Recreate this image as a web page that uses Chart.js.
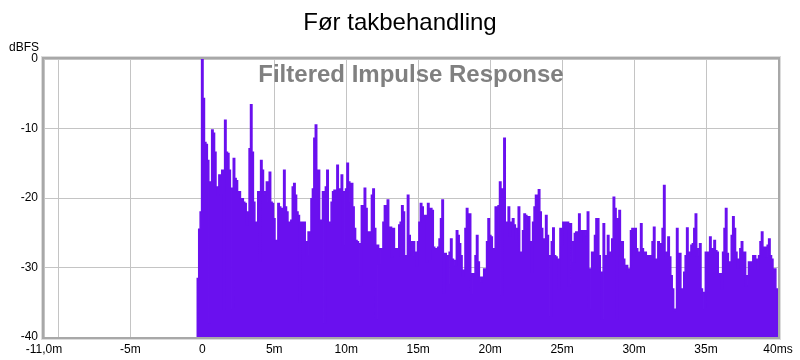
<!DOCTYPE html>
<html>
<head>
<meta charset="utf-8">
<script src="https://cdn.jsdelivr.net/npm/chart.js@4/dist/chart.umd.min.js"></script>
<style>
  html, body { margin: 0; padding: 0; background: #ffffff; }
  #wrap { width: 800px; height: 360px; position: relative; }
</style>
</head>
<body>
<div id="wrap"><canvas id="c" width="800" height="360"></canvas></div>
<script>
// ---- data ----
const chartTitle = 'Før takbehandling';
const yUnitLabel = 'dBFS';
const watermarkText = 'Filtered Impulse Response';

const xTickValues = [-11, -10, -5, 0, 5, 10, 15, 20, 25, 30, 35, 40];
const xTickLabels = ['-11,0m', '', '-5m', '0', '5m', '10m', '15m', '20m', '25m', '30m', '35m', '40ms'];
const yTickValues = [0, -10, -20, -30, -40];

// time in ms
const timesMs = [
  -0.4, -0.3, -0.2, -0.1,
  0, 0.1, 0.2, 0.3, 0.4, 0.5, 0.6, 0.7, 0.8, 0.9,
  1, 1.1, 1.2, 1.3, 1.4, 1.5, 1.6, 1.7, 1.8, 1.9,
  2, 2.1, 2.2, 2.3, 2.4, 2.5, 2.6, 2.7, 2.8, 2.9,
  3, 3.1, 3.2, 3.3, 3.4, 3.5, 3.6, 3.7, 3.8, 3.9,
  4, 4.1, 4.2, 4.3, 4.4, 4.5, 4.6, 4.7, 4.8, 4.9,
  5, 5.1, 5.2, 5.3, 5.4, 5.5, 5.6, 5.7, 5.8, 5.9,
  6, 6.1, 6.2, 6.3, 6.4, 6.5, 6.6, 6.7, 6.8, 6.9,
  7, 7.1, 7.2, 7.3, 7.4, 7.5, 7.6, 7.7, 7.8, 7.9,
  8, 8.1, 8.2, 8.3, 8.4, 8.5, 8.6, 8.7, 8.8, 8.9,
  9, 9.1, 9.2, 9.3, 9.4, 9.5, 9.6, 9.7, 9.8, 9.9,
  10, 10.1, 10.2, 10.3, 10.4, 10.5, 10.6, 10.7, 10.8, 10.9,
  11, 11.1, 11.2, 11.3, 11.4, 11.5, 11.6, 11.7, 11.8, 11.9,
  12, 12.1, 12.2, 12.3, 12.4, 12.5, 12.6, 12.7, 12.8, 12.9,
  13, 13.1, 13.2, 13.3, 13.4, 13.5, 13.6, 13.7, 13.8, 13.9,
  14, 14.1, 14.2, 14.3, 14.4, 14.5, 14.6, 14.7, 14.8, 14.9,
  15, 15.1, 15.2, 15.3, 15.4, 15.5, 15.6, 15.7, 15.8, 15.9,
  16, 16.1, 16.2, 16.3, 16.4, 16.5, 16.6, 16.7, 16.8, 16.9,
  17, 17.1, 17.2, 17.3, 17.4, 17.5, 17.6, 17.7, 17.8, 17.9,
  18, 18.1, 18.2, 18.3, 18.4, 18.5, 18.6, 18.7, 18.8, 18.9,
  19, 19.1, 19.2, 19.3, 19.4, 19.5, 19.6, 19.7, 19.8, 19.9,
  20, 20.1, 20.2, 20.3, 20.4, 20.5, 20.6, 20.7, 20.8, 20.9,
  21, 21.1, 21.2, 21.3, 21.4, 21.5, 21.6, 21.7, 21.8, 21.9,
  22, 22.1, 22.2, 22.3, 22.4, 22.5, 22.6, 22.7, 22.8, 22.9,
  23, 23.1, 23.2, 23.3, 23.4, 23.5, 23.6, 23.7, 23.8, 23.9,
  24, 24.1, 24.2, 24.3, 24.4, 24.5, 24.6, 24.7, 24.8, 24.9,
  25, 25.1, 25.2, 25.3, 25.4, 25.5, 25.6, 25.7, 25.8, 25.9,
  26, 26.1, 26.2, 26.3, 26.4, 26.5, 26.6, 26.7, 26.8, 26.9,
  27, 27.1, 27.2, 27.3, 27.4, 27.5, 27.6, 27.7, 27.8, 27.9,
  28, 28.1, 28.2, 28.3, 28.4, 28.5, 28.6, 28.7, 28.8, 28.9,
  29, 29.1, 29.2, 29.3, 29.4, 29.5, 29.6, 29.7, 29.8, 29.9,
  30, 30.1, 30.2, 30.3, 30.4, 30.5, 30.6, 30.7, 30.8, 30.9,
  31, 31.1, 31.2, 31.3, 31.4, 31.5, 31.6, 31.7, 31.8, 31.9,
  32, 32.1, 32.2, 32.3, 32.4, 32.5, 32.6, 32.7, 32.8, 32.9,
  33, 33.1, 33.2, 33.3, 33.4, 33.5, 33.6, 33.7, 33.8, 33.9,
  34, 34.1, 34.2, 34.3, 34.4, 34.5, 34.6, 34.7, 34.8, 34.9,
  35, 35.1, 35.2, 35.3, 35.4, 35.5, 35.6, 35.7, 35.8, 35.9,
  36, 36.1, 36.2, 36.3, 36.4, 36.5, 36.6, 36.7, 36.8, 36.9,
  37, 37.1, 37.2, 37.3, 37.4, 37.5, 37.6, 37.7, 37.8, 37.9,
  38, 38.1, 38.2, 38.3, 38.4, 38.5, 38.6, 38.7, 38.8, 38.9,
  39, 39.1, 39.2, 39.3, 39.4, 39.5, 39.6, 39.7, 39.8, 39.9,
  40
];

// level in dBFS
const levelsDb = [
  -40, -31.6, -24.5, -22,
  0, -5.7, -12.0, -12.3, -14.6, -38, -17.7, -10.2, -10.7, -13.4,
  -18.4, -19.6, -16.7, -19.4, -16.0, -36, -8.8, -13.4, -13.6, -16.0,
  -18.6, -36, -14.3, -17.2, -17.5, -19.1, -19.1, -20.1, -20.1, -20.6,
  -20.8, -23.9, -22, -12.9, -6.6, -13.4, -20.6, -23.5, -23.9, -19.1,
  -29, -14.6, -16.0, -19.1, -19.6, -17.7, -20.6, -16.3, -20.6, -20.8,
  -23.0, -26.1, -26.3, -20.8, -21.3, -21.5, -22.7, -16.0, -21.3, -22.0,
  -23.5, -23.5, -23.2, -18.4, -17.9, -19.6, -22.0, -22.5, -35, -23.5,
  -26.3, -23.5, -26.3, -28.3, -24.9, -25.0, -20.1, -18.7, -11.4, -9.5,
  -18.7, -16.0, -23.5, -23.2, -19.1, -38, -18.4, -16.0, -23.5, -23.7,
  -20.6, -19.1, -18.9, -19.6, -15.3, -18.7, -20.1, -16.7, -26.8, -19.1,
  -18.7, -15.0, -17.7, -20.6, -17.9, -21.3, -24.4, -26.1, -26.3, -26.6,
  -32.6, -21.1, -21.3, -18.6, -21.5, -24.9, -25.6, -24.9, -19.6, -18.7,
  -24.4, -37.4, -26.8, -29.5, -27.3, -27.3, -23.5, -21.1, -21.3, -20.3,
  -24.4, -24.2, -28.5, -24.4, -28.3, -27.3, -28.3, -23.9, -23.5, -21.1,
  -22.0, -28.3, -28.3, -19.6, -25.4, -26.3, -28.3, -26.3, -27.8, -29.7,
  -26.3, -23.5, -20.8, -21.3, -22.5, -22.5, -29.2, -20.8, -28.8, -21.5,
  -21.8, -27.1, -27.3, -27.3, -27.1, -25.9, -23.0, -20.3, -33.6, -28.0,
  -28.3, -32.4, -27.8, -25.9, -28.8, -29.0, -29.7, -24.7, -25.4, -26.6,
  -28.3, -31.2, -30.4, -24.4, -21.5, -24.4, -22.3, -33.8, -30.9, -31.2,
  -28.3, -25.4, -29.2, -31.4, -32.1, -31.4, -30.2, -30.2, -26.3, -23.0,
  -25.4, -25.6, -27.3, -27.5, -21.3, -25.4, -21.1, -17.7, -34.0, -18.7,
  -11.4, -23.5, -23.5, -21.3, -25.4, -23.5, -23.0, -23.9, -25.9, -24.4,
  -21.3, -27.8, -27.8, -24.7, -22.3, -22.5, -24.4, -22.7, -26.3, -30.7,
  -23.5, -21.3, -19.6, -21.3, -18.8, -22.0, -24.4, -25.9, -26.3, -22.5,
  -25.4, -28.3, -37, -26.3, -24.3, -28.3, -28.5, -28.8, -33.1, -24.4,
  -26.8, -23.5, -23.5, -24.4, -23.5, -32.6, -23.7, -26.3, -29.2, -25.1,
  -24.9, -24.9, -22.3, -26.3, -24.7, -24.7, -24.7, -25.4, -22.0, -36,
  -30.2, -27.8, -27.8, -25.4, -23.0, -23.0, -28.3, -30.7, -37.4, -23.7,
  -28.3, -28.5, -25.4, -27.8, -28.3, -25.9, -19.9, -21.5, -37.4, -23.0,
  -21.8, -28.3, -26.3, -28.8, -30.2, -29.7, -30.7, -30.2, -24.7, -24.4,
  -28.3, -24.4, -27.3, -27.8, -27.8, -23.7, -27.3, -28.3, -27.8, -28.5,
  -28.3, -28.3, -28.3, -26.3, -24.2, -28.8, -28.8, -26.3, -26.6, -26.6,
  -24.4, -18.2, -28.3, -27.8, -25.6, -28.5, -31.2, -33.1, -36.2, -36.0,
  -24.4, -28.3, -28.0, -33.1, -33.1, -30.7, -28.3, -24.3, -27.8, -28.0,
  -26.8, -26.6, -24.4, -22.3, -28.3, -27.3, -26.6, -33.1, -33.6, -36.0,
  -27.8, -27.8, -28.3, -25.6, -28.5, -27.3, -26.1, -27.6, -27.8, -30.9,
  -30.9, -33.1, -27.8, -24.4, -21.5, -28.0, -29.2, -29.2, -25.4, -22.7,
  -24.4, -27.8, -30.0, -28.8, -27.3, -26.3, -28.0, -27.8, -32.6, -31.2,
  -29.2, -29.2, -30.2, -28.3, -28.3, -28.8, -30.2, -28.3, -26.3, -24.9,
  -27.3, -27.1, -28.5, -26.8, -25.9, -28.3, -28.8, -30.7, -30.2, -33.1,
  -36.0
];

// ---- chart ----
const FONT = '"Liberation Sans", Arial, Helvetica, sans-serif';
const points = timesMs.map((t, i) => ({ x: t, y: levelsDb[i] }));

const decor = {
  id: 'decor',
  beforeDraw(chart) {
    const ctx = chart.ctx;
    ctx.save();
    ctx.fillStyle = '#ffffff';
    ctx.fillRect(0, 0, chart.width, chart.height);
    ctx.fillStyle = '#000000';
    ctx.font = '24px ' + FONT;
    ctx.textAlign = 'center';
    ctx.textBaseline = 'middle';
    ctx.fillText(chartTitle, 400, 23);
    ctx.font = '12px ' + FONT;
    ctx.textAlign = 'right';
    ctx.fillText(yUnitLabel, 39, 48);
    ctx.restore();
  },
  beforeDatasetsDraw(chart) {
    const ctx = chart.ctx;
    const a = chart.chartArea;
    ctx.save();
    ctx.fillStyle = '#808080';
    ctx.font = 'bold 24px ' + FONT;
    ctx.textAlign = 'center';
    ctx.textBaseline = 'middle';
    ctx.fillText(watermarkText, (a.left + a.right) / 2, 75);
    ctx.restore();
  },
  afterDatasetsDraw(chart) {
    const ctx = chart.ctx;
    const a = chart.chartArea;
    ctx.save();
    ctx.strokeStyle = '#dcdcdc';
    ctx.lineWidth = 1;
    ctx.strokeRect(a.left - 2.5, a.top - 2.5, a.right - a.left + 5, a.bottom - a.top + 5);
    ctx.strokeStyle = '#a8a8a8';
    ctx.lineWidth = 2;
    ctx.strokeRect(a.left - 1, a.top - 1, a.right - a.left + 2, a.bottom - a.top + 2);
    ctx.restore();
  }
};

new Chart(document.getElementById('c'), {
  type: 'line',
  data: {
    datasets: [{
      data: points,
      borderColor: '#6a10ef',
      backgroundColor: '#6a10ef',
      borderWidth: 1.5,
      pointRadius: 0,
      fill: 'start',
      stepped: 'middle'
    }]
  },
  options: {
    responsive: false,
    animation: false,
    events: [],
    layout: { padding: { top: 59, right: 22, left: 0, bottom: 0 } },
    plugins: { legend: { display: false }, title: { display: false }, tooltip: { enabled: false } },
    scales: {
      x: {
        type: 'linear',
        min: -11,
        max: 40,
        afterBuildTicks: (s) => { s.ticks = xTickValues.map(v => ({ value: v })); },
        afterFit: (s) => { s.height = 23; },
        ticks: {
          autoSkip: false,
          maxRotation: 0,
          color: '#000000',
          padding: 5,
          font: { family: FONT, size: 12 },
          callback: (v) => { const i = xTickValues.indexOf(v); return i >= 0 ? xTickLabels[i] : ''; }
        },
        grid: { color: '#c4c4c4', drawTicks: false, lineWidth: 1 },
        border: { display: false }
      },
      y: {
        min: -40,
        max: 0,
        afterBuildTicks: (s) => { s.ticks = yTickValues.map(v => ({ value: v })); },
        afterFit: (s) => { s.width = 44; },
        ticks: {
          color: '#000000',
          padding: 6,
          font: { family: FONT, size: 12 }
        },
        grid: { color: '#c4c4c4', drawTicks: false, lineWidth: 1 },
        border: { display: false }
      }
    }
  },
  plugins: [decor]
});
</script>
</body>
</html>
